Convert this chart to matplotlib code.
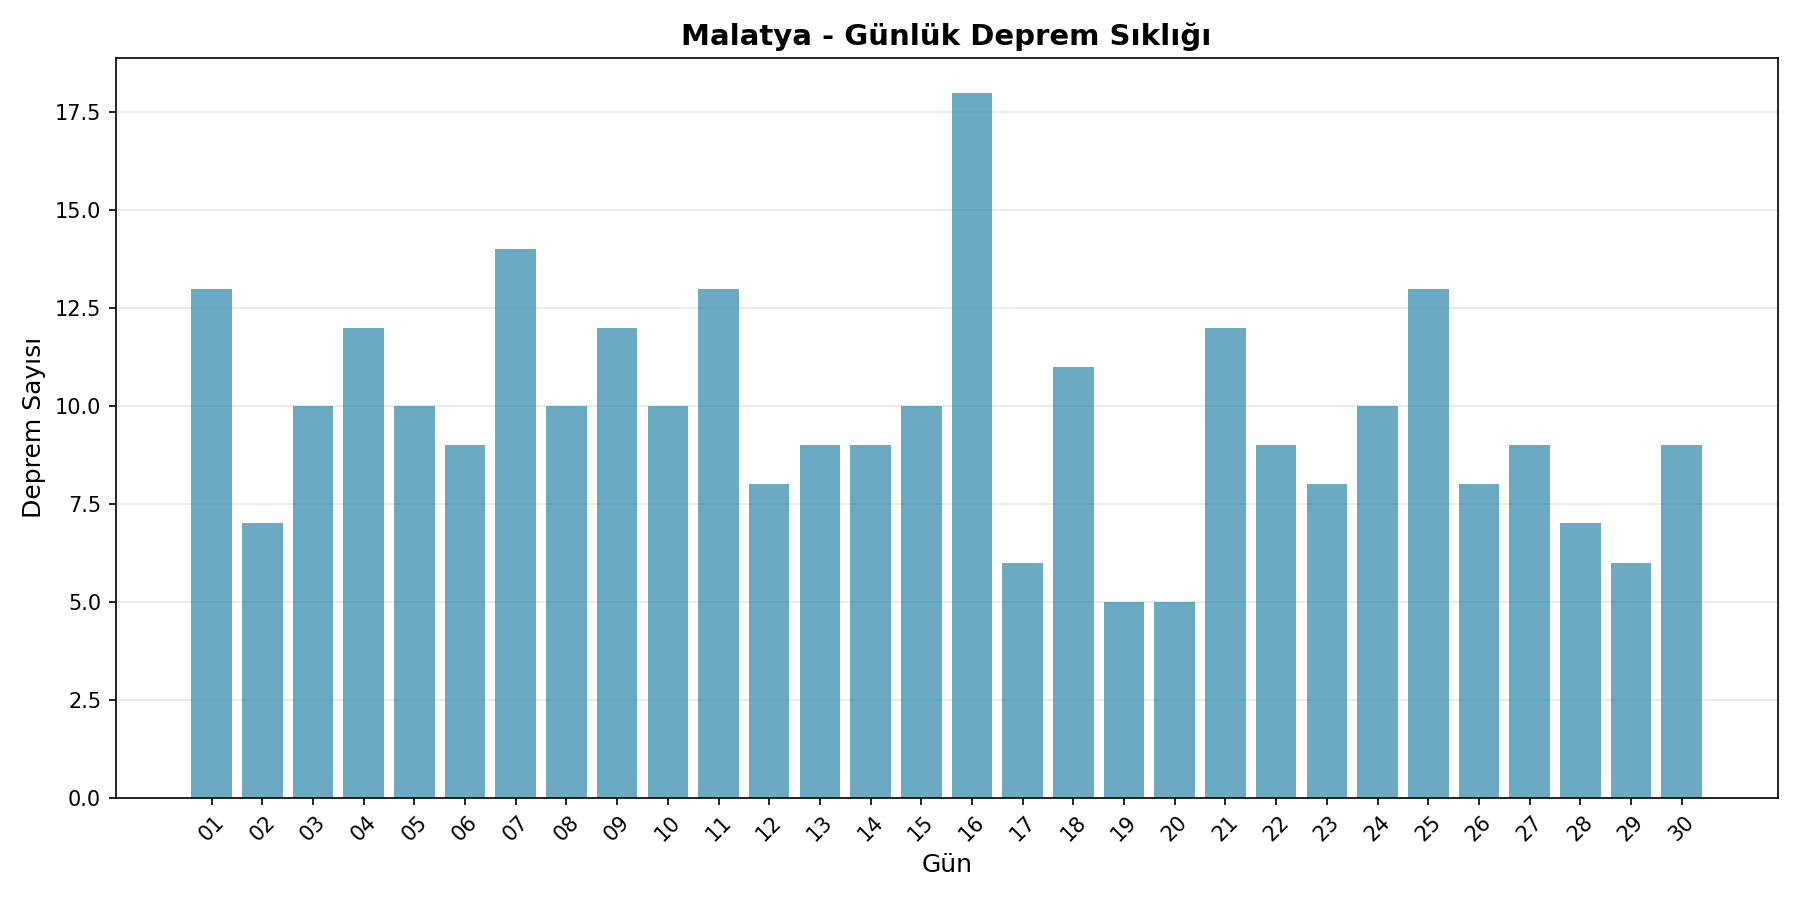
import matplotlib
matplotlib.use("Agg")
import matplotlib.pyplot as plt

days = ["%02d" % d for d in range(1, 31)]
counts = [13, 7, 10, 12, 10, 9, 14, 10, 12, 10,
          13, 8, 9, 9, 10, 18, 6, 11, 5, 5,
          12, 9, 8, 10, 13, 8, 9, 7, 6, 9]

fig, ax = plt.subplots(figsize=(12, 6), dpi=150)
ax.bar(days, counts, color="#2E86AB", alpha=0.7)
ax.set_title("Malatya - Günlük Deprem Sıklığı", fontsize=14, fontweight="bold")
ax.set_xlabel("Gün", fontsize=12)
ax.set_ylabel("Deprem Sayısı", fontsize=12)
ax.yaxis.set_major_formatter(matplotlib.ticker.FormatStrFormatter("%.1f"))
plt.xticks(rotation=45)
ax.grid(axis="y", alpha=0.3)
ax.set_axisbelow(True)
plt.tight_layout()
plt.savefig("out.png", dpi=150)
